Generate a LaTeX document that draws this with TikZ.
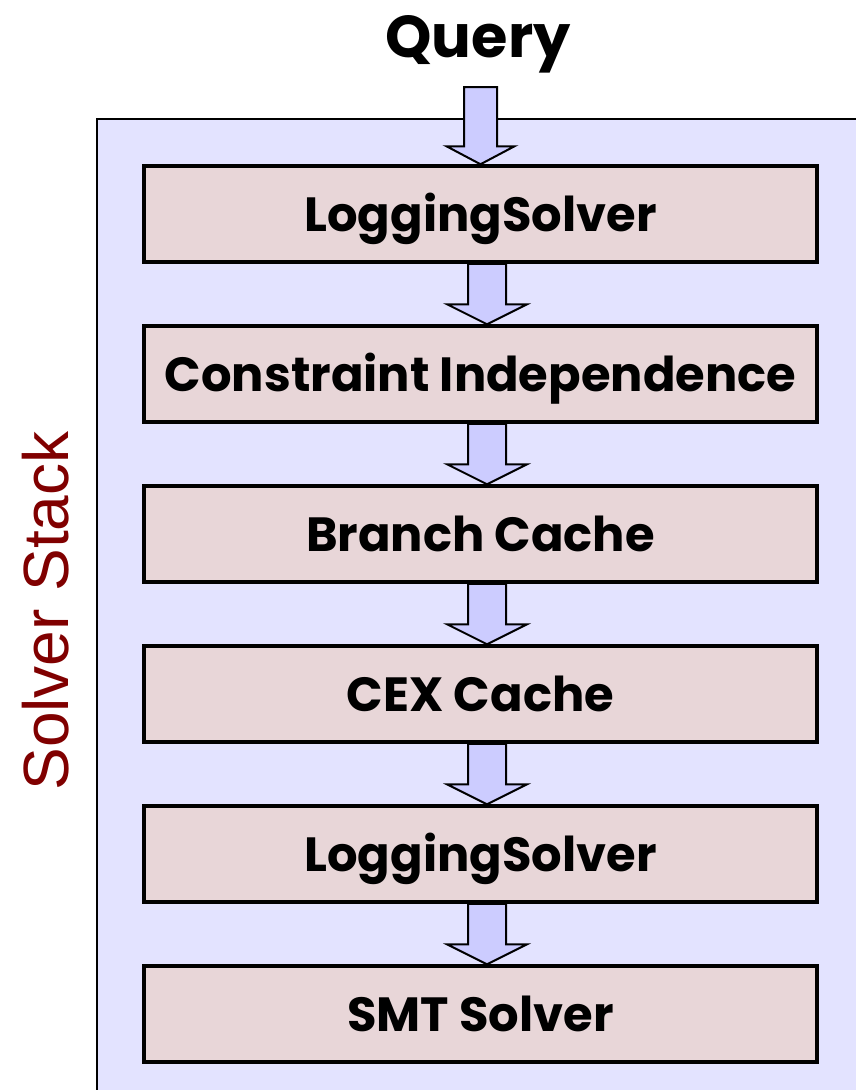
\documentclass[tikz,border=0pt]{standalone}
\usepackage{fontspec}
\usetikzlibrary{calc}
\newfontfamily\stackfont{Poppins}
\setsansfont{Liberation Sans}
\definecolor{stackbg}{HTML}{E3E3FF}
\definecolor{layerfill}{HTML}{E8D6D8}
\definecolor{flowfill}{HTML}{CCCCFF}
\definecolor{stackred}{HTML}{800000}
\pgfdeclarelayer{back}
\pgfdeclarelayer{mid}
\pgfsetlayers{back,mid,main}
\tikzset{
  layerbox/.style={draw=black, line width=3.5pt, fill=layerfill,
    minimum width=673pt, minimum height=96pt, inner sep=0pt,
    font=\stackfont\bfseries\fontsize{48pt}{48pt}\selectfont,
    text height=35pt, text depth=0pt},
  flow/.style={draw=black, line width=2pt, fill=flowfill, line join=miter},
}
% block arrow: #1 start, #2 end, #3 centre x, #4 shaft half width, #5 head half width, #6 head length
\newcommand\blockarrow[6]{%
  \draw[flow] let \p1=(#1), \p2=(#2) in
    ({(#3-#4)*1pt},\y1) -- ({(#3-#4)*1pt},{\y2+#6pt}) -- ({(#3-#5)*1pt},{\y2+#6pt})
    -- ({#3*1pt},\y2) -- ({(#3+#5)*1pt},{\y2+#6pt}) -- ({(#3+#4)*1pt},{\y2+#6pt})
    -- ({(#3+#4)*1pt},\y1) -- cycle;}
\begin{document}
\begin{tikzpicture}[x=1pt, y=-1pt]
\useasboundingbox (0,0) rectangle (856,1090);

% the stack container
\begin{pgfonlayer}{back}
  \fill[stackbg] (97,119) rectangle (870,1100);
  \draw[line width=2.5pt] (97,1100) -- (97,119) -- (870,119);
\end{pgfonlayer}

\node[font=\stackfont\bfseries\fontsize{59pt}{59pt}\selectfont,
  text height=42pt, text depth=0pt, inner sep=0pt] (query) at (478,36) {Query};
\coordinate (qin) at (480.5,87);

\node[layerbox] (l1) at (480.5,214) {LoggingSolver};
\node[layerbox] (l2) at (480.5,374) {Constraint Independence};
\node[layerbox] (l3) at (480.5,534) {Branch Cache};
\node[layerbox] (l4) at (480.5,694) {CEX Cache};
\node[layerbox] (l5) at (480.5,854) {LoggingSolver};
\node[layerbox] (l6) at (480.5,1014) {SMT Solver};

\begin{pgfonlayer}{mid}
  \blockarrow{qin}{l1.north}{480.5}{16.5}{34}{18}
  \blockarrow{l1.south}{l2.north}{487}{19}{40}{20}
  \blockarrow{l2.south}{l3.north}{487}{19}{40}{20}
  \blockarrow{l3.south}{l4.north}{487}{19}{40}{20}
  \blockarrow{l4.south}{l5.north}{487}{19}{40}{20}
  \blockarrow{l5.south}{l6.north}{487}{19}{40}{20}
\end{pgfonlayer}

\node[rotate=90, text=stackred, font=\sffamily\fontsize{64pt}{64pt}\selectfont,
  inner sep=0pt] (stack) at (46,611) {Solver Stack};
\end{tikzpicture}
\end{document}
